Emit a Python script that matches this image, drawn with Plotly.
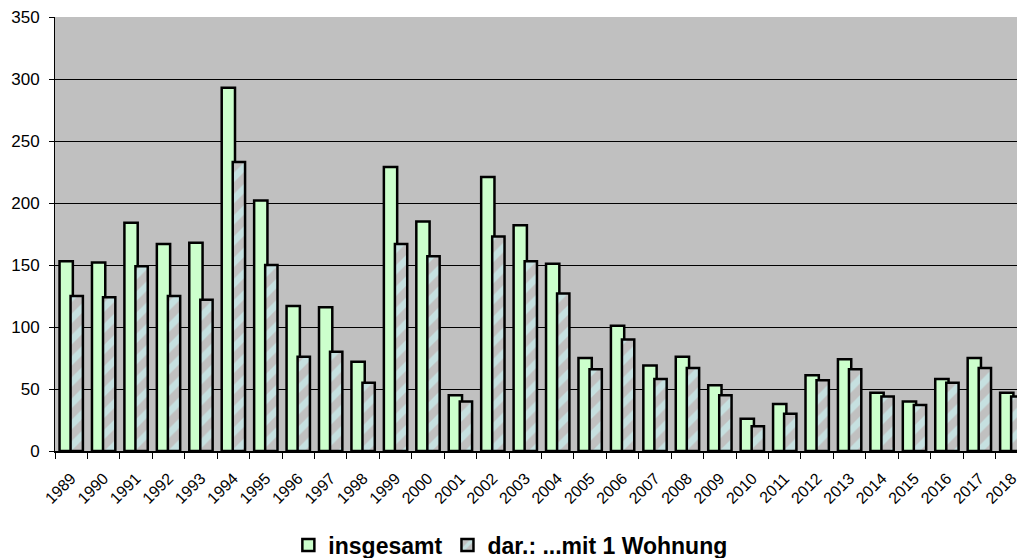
import plotly.graph_objects as go

years = [str(y) for y in range(1989, 2019)]
insgesamt = [153, 152, 184, 167, 168, 293, 202, 117, 116, 72, 229, 185, 45, 221, 182,
             151, 75, 101, 69, 76, 53, 26, 38, 61, 74, 47, 40, 58, 75, 47]
mit1 = [125, 124, 149, 125, 122, 233, 150, 76, 80, 55, 167, 157, 40, 173, 153,
        127, 66, 90, 58, 67, 45, 20, 30, 57, 66, 44, 37, 55, 67, 44]
y_ticks = [0, 50, 100, 150, 200, 250, 300, 350]

FONT = "Liberation Sans, Arial, sans-serif"

fig = go.Figure()
fig.add_trace(go.Bar(
    x=years, y=insgesamt, name="insgesamt",
    width=0.41, offset=-0.36,
    marker=dict(color="#ccffcc", line=dict(color="black", width=2.5)),
))
fig.add_trace(go.Bar(
    x=years, y=mit1, name="dar.: ...mit 1 Wohnung",
    width=0.38, offset=-0.02,
    marker=dict(color="#c0c0c0", line=dict(color="black", width=2.5),
                pattern=dict(shape="/", bgcolor="#c0c0c0", fgcolor="#ccffff",
                             size=15, solidity=0.45, fillmode="overlay")),
))

fig.update_layout(
    width=1025, height=558,
    barmode="overlay",
    plot_bgcolor="#c0c0c0", paper_bgcolor="white",
    margin=dict(l=47, r=5, t=9, b=115, autoexpand=False),
    font=dict(family=FONT, size=17, color="black"),
    showlegend=True,
    legend=dict(orientation="h", x=0.468, xanchor="center",
                y=-0.2166, yanchor="middle",
                font=dict(size=23, family=FONT, weight="bold"),
                itemwidth=30, traceorder="normal"),
)
fig.update_yaxes(range=[0, 350], tickvals=y_ticks, showgrid=True, gridcolor="black",
                 gridwidth=1, zeroline=False, showline=True, linecolor="black",
                 ticks="outside", ticklen=5, tickcolor="black", ticklabelstandoff=6,
                 ticklabeloverflow="allow", tickfont=dict(size=17))
fig.update_xaxes(type="category", range=[-0.5, 29.5], tickangle=-45, showline=True,
                 linecolor="black", linewidth=1.5, ticks="outside", tickson="boundaries",
                 ticklen=6, tickcolor="black", tickfont=dict(size=16), showgrid=False,
                 ticklabelstandoff=10, ticklabeloverflow="allow")

fig.write_html("out.html")
